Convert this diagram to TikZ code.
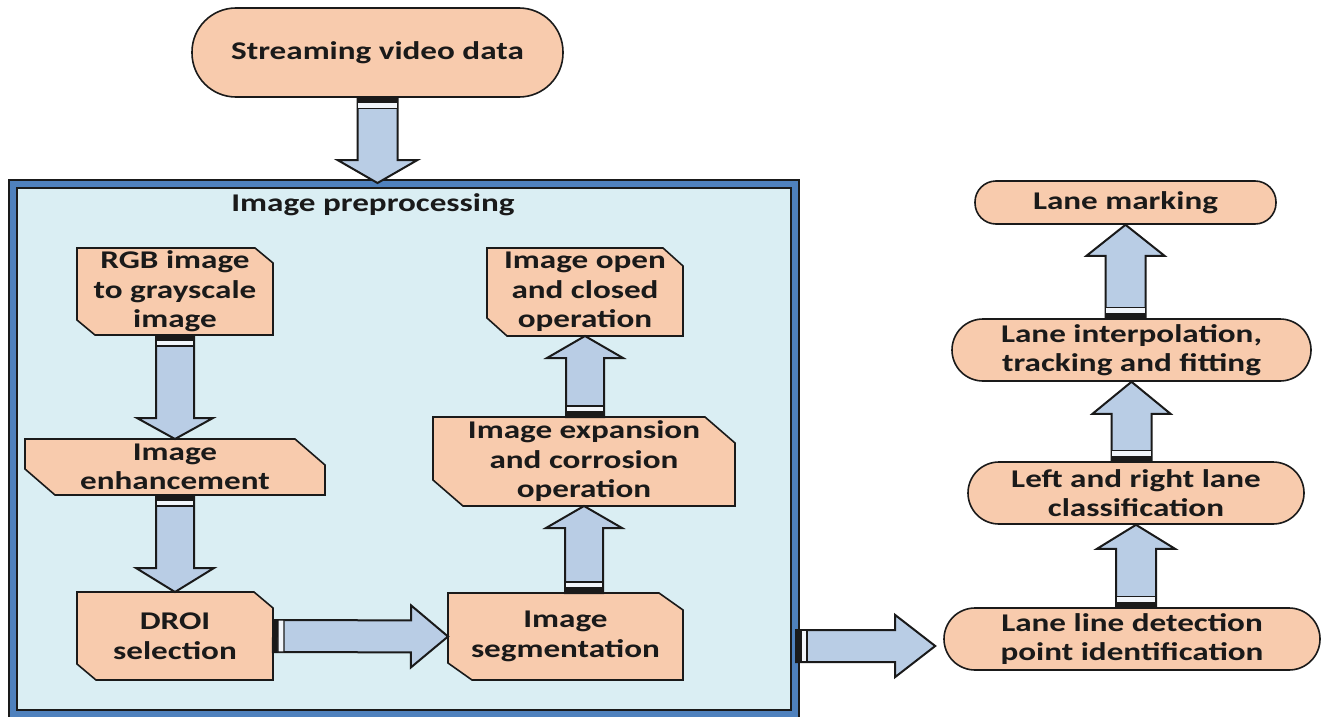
\documentclass[tikz,border=0pt]{standalone}
\usepackage{fontspec}
\setmainfont{Carlito}[FakeStretch=1.3]
\usetikzlibrary{calc}
\pgfdeclarelayer{bg}
\pgfdeclarelayer{mid}
\pgfsetlayers{bg,mid,main}
\definecolor{peach}{HTML}{F8CBAD}
\definecolor{arrowblue}{HTML}{B9CDE5}
\definecolor{panel}{HTML}{DAEEF3}
\definecolor{frameblue}{HTML}{4F81BD}
\definecolor{ink}{HTML}{1A1A1A}
\tikzset{
  lbl/.style={font=\bfseries\fontsize{25.5}{29.5}\selectfont, text=ink, align=center},
  stad/.style={lbl, draw=ink, line width=1.6pt, fill=peach, rounded corners=#1, inner sep=0pt},
  cutbox/.style={lbl, rectangle, inner sep=0pt, outer sep=0pt},
  cutline/.style={draw=ink, line width=1.6pt, fill=peach, line join=miter},
  frame/.style={draw=ink, line width=2pt, double=frameblue, double distance=6pt, fill=panel},
  barrow/.style={draw=ink, line width=2pt, fill=arrowblue, line join=miter},
}
% outline of a box with cut top-right and bottom-left corners: #1 node, #2 cut x, #3 cut y
\newcommand\chamferbox[3]{%
  \begin{pgfonlayer}{mid}
  \filldraw[cutline] (#1.north west) -- ($(#1.north east)+(-#2,0)$) -- ($(#1.north east)+(0,#3)$)
    -- (#1.south east) -- ($(#1.south west)+(#2,0)$) -- ($(#1.south west)+(0,-#3)$) -- cycle;
  \end{pgfonlayer}
}
% block arrow: #1 tail, #2 tip, #3 shaft half width, #4 head half width, #5 head length
\newcommand\blockarrow[5]{%
  \coordinate (ba-h) at ($(#2)!#5!(#1)$);
  \coordinate (ba-a) at ($(#1)!5pt!(#2)$);
  \coordinate (ba-b) at ($(#1)!11pt!(#2)$);
  \filldraw[barrow] ($(#1)!#3!90:(#2)$) -- ($(ba-h)!#3!90:(#2)$) -- ($(ba-h)!#4!90:(#2)$)
    -- (#2) -- ($(ba-h)!#4!-90:(#2)$) -- ($(ba-h)!#3!-90:(#2)$) -- ($(#1)!#3!-90:(#2)$) -- cycle;
  \fill[ink] ($(#1)!#3!90:(#2)$) -- ($(ba-a)!#3!90:(#2)$) -- ($(ba-a)!#3!-90:(#2)$) -- ($(#1)!#3!-90:(#2)$) -- cycle;
  \filldraw[fill=white!80!arrowblue, draw=ink, line width=1.3pt] ($(ba-a)!#3!90:(#2)$) -- ($(ba-b)!#3!90:(#2)$)
    -- ($(ba-b)!#3!-90:(#2)$) -- ($(ba-a)!#3!-90:(#2)$) -- cycle;
}
\begin{document}
\begin{tikzpicture}[x=1pt,y=-1pt]
\useasboundingbox (0,0) rectangle (1322,717);
\begin{pgfonlayer}{bg}
\fill[white] (0,0) rectangle (1322,717);
\node[frame, minimum width=782pt, minimum height=530pt] (prep) at (404,449) {};
\end{pgfonlayer}
\node[lbl] (preplbl) at (373,205) {Image preprocessing};

% nodes
\node[stad=44pt, minimum width=371pt, minimum height=89pt] (stream) at (377.5,52.5) {Streaming video data};

\node[cutbox, minimum width=196pt, minimum height=87pt] (rgb) at (175,291.5) {RGB image\\to grayscale\\image};
\chamferbox{rgb}{18}{15}
\node[cutbox, minimum width=300pt, minimum height=56pt] (enh) at (175,467) {Image\\enhancement};
\chamferbox{enh}{30}{26}
\node[cutbox, minimum width=196pt, minimum height=88pt] (droi) at (175,636) {DROI\\selection};
\chamferbox{droi}{19}{16}
\node[cutbox, minimum width=235pt, minimum height=87pt] (seg) at (565.5,636.5) {Image\\segmentation};
\chamferbox{seg}{24}{17}
\node[cutbox, minimum width=302pt, minimum height=89pt] (exp) at (584,461.5) {Image expansion\\and corrosion\\operation};
\chamferbox{exp}{30}{26}
\node[cutbox, minimum width=196pt, minimum height=88pt] (open) at (585,292) {Image open\\and closed\\operation};
\chamferbox{open}{20}{18}

\node[stad=21pt, minimum width=301pt, minimum height=43pt] (mark) at (1125.5,202.5) {Lane marking};
\node[stad=31pt, minimum width=359pt, minimum height=62pt] (interp) at (1131.5,350) {Lane interpolation,\\tracking and fitting};
\node[stad=31pt, minimum width=336pt, minimum height=62pt] (lr) at (1136,493) {Left and right lane\\classification};
\node[stad=31pt, minimum width=376pt, minimum height=62pt] (det) at (1132,639) {Lane line detection\\point identification};

% connectors
\blockarrow{stream.south}{stream.south |- prep.north}{20pt}{40pt}{23pt}
\blockarrow{rgb.south}{enh.north}{19pt}{38pt}{21pt}
\blockarrow{enh.south}{droi.north}{19pt}{39pt}{24pt}
\blockarrow{droi.east}{seg.west}{16pt}{31pt}{37pt}
\blockarrow{exp.south |- seg.north}{exp.south}{19pt}{38pt}{22pt}
\blockarrow{open.south |- exp.north}{open.south}{19pt}{38pt}{22pt}
\coordinate (ob) at (0,646);
\coordinate (otip) at ($(det.west |- ob)+(-8,0)$);
\blockarrow{prep.east |- ob}{otip}{16pt}{31pt}{40pt}
\blockarrow{det.north -| lr.south}{lr.south}{20pt}{39pt}{24pt}
\blockarrow{lr.north -| interp.south}{interp.south}{20pt}{39pt}{32pt}
\blockarrow{interp.north -| mark.south}{mark.south}{20pt}{39pt}{31pt}
\end{tikzpicture}
\end{document}
